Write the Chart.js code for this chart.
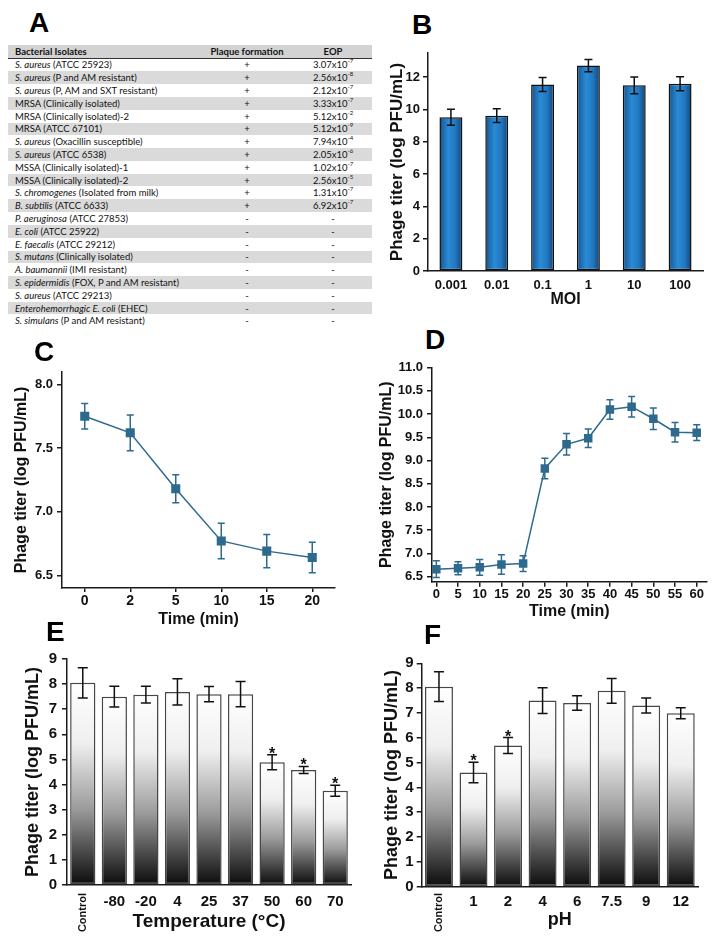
<!DOCTYPE html>
<html>
<head>
<meta charset="utf-8">
<script src="https://cdn.jsdelivr.net/npm/chart.js@4.4.0/dist/chart.umd.min.js"></script>
<style>
  body { margin: 0; background: #fff; width: 717px; height: 943px; position: relative; overflow: hidden; }
  canvas { position: absolute; }
  .lbl { position: absolute; font: bold 28px "Liberation Sans", Arial, sans-serif; line-height: 1; color: #000; z-index: 2; }
  .row { position: absolute; left: 8px; width: 364px; height: 12.8px; display: flex; align-items: center;
         font: 9.5px Lato, "Liberation Sans", sans-serif; color: #111; white-space: nowrap; }
  .head { top: 45px; height: 13.5px; background: #d3d3d3; font-weight: bold; border-bottom: 1px solid #333; box-sizing: border-box; }
  .gray { background: #dadada; }
  .c1 { width: 185px; padding-left: 7px; }
  .c2 { width: 94px; text-align: center; }
  .c3 { width: 78px; text-align: center; }
  sup { font-size: 6px; line-height: 1; vertical-align: top; position: relative; top: -1px; }
</style>
</head>
<body>
<div class="lbl" style="left:29px;top:9px">A</div>
<div class="lbl" style="left:412px;top:11px">B</div>
<div class="lbl" style="left:34px;top:338px">C</div>
<div class="lbl" style="left:425px;top:326px">D</div>
<div class="lbl" style="left:46px;top:618px">E</div>
<div class="lbl" style="left:424px;top:621px">F</div>

<div id="tbl"></div>

<canvas id="cB" width="357" height="272" style="left:360px;top:40px"></canvas>
<canvas id="cC" width="355" height="270" style="left:0px;top:360px"></canvas>
<canvas id="cD" width="357" height="270" style="left:360px;top:355px"></canvas>
<canvas id="cE" width="360" height="298" style="left:0px;top:645px"></canvas>
<canvas id="cF" width="357" height="293" style="left:360px;top:650px"></canvas>

<script>
// Panel A - host range table
const isolates = [
    ['S. aureus', ' (ATCC 25923)'],
    ['S. aureus', ' (P and AM resistant)'],
    ['S. aureus', ' (P, AM and SXT resistant)'],
    ['', 'MRSA (Clinically isolated)'],
    ['', 'MRSA (Clinically isolated)-2'],
    ['', 'MRSA (ATCC 67101)'],
    ['S. aureus', ' (Oxacillin susceptible)'],
    ['S. aureus', ' (ATCC 6538)'],
    ['', 'MSSA (Clinically isolated)-1'],
    ['', 'MSSA (Clinically isolated)-2'],
    ['S. chromogenes', ' (Isolated from milk)'],
    ['B. subtilis', ' (ATCC 6633)'],
    ['P. aeruginosa', ' (ATCC 27853)'],
    ['E. coli', ' (ATCC 25922)'],
    ['E. faecalis', ' (ATCC 29212)'],
    ['S. mutans', ' (Clinically isolated)'],
    ['A. baumannii', ' (IMI resistant)'],
    ['S. epidermidis', ' (FOX, P and AM resistant)'],
    ['S. aureus', ' (ATCC 29213)'],
    ['Enterohemorrhagic E. coli', ' (EHEC)'],
    ['S. simulans', ' (P and AM resistant)']
];
const plaque = ['+', '+', '+', '+', '+', '+', '+', '+', '+', '+', '+', '+', '-', '-', '-', '-', '-', '-', '-', '-', '-'];
const eopBase = ['3.07', '2.56', '2.12', '3.33', '5.12', '5.12', '7.94', '2.05', '1.02', '2.56', '1.31', '6.92'];
const eopExp = ['-7', '-8', '-7', '-7', '-2', '-9', '-4', '-6', '-7', '-5', '-7', '-7'];

// Panel B - MOI
const mois = ['0.001', '0.01', '0.1', '1', '10', '100'];
const moiTiter = [9.52, 9.62, 11.55, 12.72, 11.5, 11.6];
const moiErr = [0.5, 0.42, 0.44, 0.38, 0.52, 0.43];
const moiTicks = [0, 2, 4, 6, 8, 10, 12];

// Panel C - adsorption
const adsTimes = ['0', '2', '5', '10', '15', '20'];
const adsTiter = [7.75, 7.62, 7.18, 6.77, 6.69, 6.64];
const adsErr = [0.1, 0.14, 0.11, 0.14, 0.13, 0.12];
const adsTicks = [6.5, 7.0, 7.5, 8.0];

// Panel D - one-step growth
const growthTimes = [0, 5, 10, 15, 20, 25, 30, 35, 40, 45, 50, 55, 60];
const growthTiter = [6.66, 6.68, 6.7, 6.76, 6.78, 8.83, 9.35, 9.48, 10.1, 10.16, 9.9, 9.61, 9.6];
const growthErr = [0.18, 0.14, 0.17, 0.21, 0.17, 0.22, 0.23, 0.2, 0.21, 0.22, 0.23, 0.21, 0.17];
const growthTicks = [6.5, 7.0, 7.5, 8.0, 8.5, 9.0, 9.5, 10.0, 10.5, 11.0];

// Panel E - temperature stability
const temps = ['Control', '-80', '-20', '4', '25', '37', '50', '60', '70'];
const tempTiter = [8.05, 7.5, 7.58, 7.69, 7.6, 7.6, 4.89, 4.58, 3.75];
const tempErr = [0.6, 0.41, 0.33, 0.52, 0.3, 0.5, 0.3, 0.14, 0.22];
const tempStar = [0, 0, 0, 0, 0, 0, 1, 1, 1];

// Panel F - pH stability
const phs = ['Control', '1', '2', '4', '6', '7.5', '9', '12'];
const phTiter = [8.06, 4.6, 5.69, 7.5, 7.4, 7.89, 7.3, 6.99];
const phErr = [0.6, 0.41, 0.32, 0.52, 0.29, 0.5, 0.3, 0.22];
const phStar = [0, 1, 1, 0, 0, 0, 0, 0];

const barTicks = [0, 1, 2, 3, 4, 5, 6, 7, 8, 9];

// build the table
let html = '<div class="row head"><div class="c1">Bacterial Isolates</div><div class="c2">Plaque formation</div><div class="c3">EOP</div></div>';
isolates.forEach((n, i) => {
    const name = (n[0] ? '<i>' + n[0] + '</i>' : '') + n[1];
    const eop = i < eopBase.length ? eopBase[i] + 'x10<sup>' + eopExp[i] + '</sup>' : '-';
    html += '<div class="row' + (i % 2 ? ' gray' : '') + '" style="top:' + (58.5 + i * 12.8) + 'px">' +
        '<div class="c1">' + name + '</div><div class="c2">' + plaque[i] + '</div><div class="c3">' + eop + '</div></div>';
});
document.getElementById('tbl').innerHTML = html;

const FONT = '"Liberation Sans", Arial, sans-serif';
const AX = '#1a1a1a';
const LINE = '#2d6a8e';
Chart.defaults.font.family = FONT;
Chart.defaults.color = '#111';
Chart.defaults.animation = false;

// error bars (and significance stars) drawn from the y scale
function drawErr(chart, o) {
    const ctx = chart.ctx, y = chart.scales.y;
    const vals = chart.data.datasets[0].data;
    ctx.save();
    ctx.strokeStyle = o.color;
    ctx.lineWidth = o.width || 1.5;
    chart.getDatasetMeta(0).data.forEach((el, i) => {
        const v = typeof vals[i] === 'object' ? vals[i].y : vals[i];
        const top = y.getPixelForValue(v + o.err[i]);
        const bot = y.getPixelForValue(v - o.err[i]);
        ctx.beginPath();
        ctx.moveTo(el.x, top); ctx.lineTo(el.x, bot);
        ctx.moveTo(el.x - o.cap, top); ctx.lineTo(el.x + o.cap, top);
        ctx.moveTo(el.x - o.cap, bot); ctx.lineTo(el.x + o.cap, bot);
        ctx.stroke();
        if (o.stars && o.stars[i]) {
            ctx.fillStyle = '#111';
            ctx.font = 'bold 16px ' + FONT;
            ctx.textAlign = 'center';
            ctx.fillText('*', el.x, top + 4);
        }
    });
    ctx.restore();
}
const errPlugin = {
    id: 'errbars',
    beforeDatasetsDraw(chart, args, o) { if (o.err && o.behind) drawErr(chart, o); },
    afterDatasetsDraw(chart, args, o) { if (o.err && !o.behind) drawErr(chart, o); }
};

// "Control" label is written vertically, the others are not
const controlLabel = {
    id: 'controlLabel',
    afterDraw(chart, args, o) {
        if (!o.top) return;
        const ctx = chart.ctx;
        ctx.save();
        ctx.translate(chart.scales.x.getPixelForValue(0), o.top);
        ctx.rotate(-Math.PI / 2);
        ctx.font = 'bold 11px ' + FONT;
        ctx.fillStyle = '#111';
        ctx.textAlign = 'right';
        ctx.textBaseline = 'middle';
        ctx.fillText('Control', 0, 0);
        ctx.restore();
    }
};

// bar fills
function blueFill(c) {
    const chart = c.chart, x = chart.scales.x;
    if (c.dataIndex === undefined || !x) return '#2277bf';
    const cx = x.getPixelForValue(c.dataIndex);
    const w = x.width / mois.length * 0.5;
    if (!isFinite(cx) || !isFinite(w) || w <= 0) return '#2277bf';
    const g = chart.ctx.createLinearGradient(cx - w / 2, 0, cx + w / 2, 0);
    g.addColorStop(0, '#0f3a60');
    g.addColorStop(0.12, '#1b65a6');
    g.addColorStop(0.4, '#2a8bd6');
    g.addColorStop(0.7, '#2277c0');
    g.addColorStop(0.9, '#16558e');
    g.addColorStop(1, '#0f3a60');
    return g;
}
function greyFill(c) {
    const chart = c.chart, y = chart.scales.y;
    if (c.dataIndex === undefined || !y) return '#999';
    const top = y.getPixelForValue(c.raw), bot = y.getPixelForValue(0);
    if (!isFinite(top) || !isFinite(bot) || bot - top < 1) return '#999';
    const g = chart.ctx.createLinearGradient(0, top, 0, bot);
    g.addColorStop(0, '#ffffff');
    g.addColorStop(0.3, '#efefef');
    g.addColorStop(0.62, '#9c9c9c');
    g.addColorStop(1, '#0b0b0b');
    return g;
}

function yScale(o) {
    return {
        min: o.min, max: o.max,
        afterBuildTicks: s => { s.ticks = o.ticks.map(v => ({ value: v })); },
        afterFit: s => { s.width = o.width; },
        grid: { drawOnChartArea: false, drawTicks: true, tickLength: 5, color: AX, lineWidth: 1.5 },
        border: { color: AX, width: 1.5 },
        ticks: { font: { size: o.tick, weight: 'bold' }, padding: o.pad, color: '#111', callback: o.fmt || (v => v) },
        title: { display: true, text: 'Phage titer (log PFU/mL)', color: '#111',
                 font: { size: o.title, weight: 'bold', lineHeight: 1.2 }, padding: { top: o.titlePad, bottom: 0 } }
    };
}
function xTitle(text, size, pad) {
    return { display: true, text: text, color: '#111', font: { size: size, weight: 'bold', lineHeight: 1.2 }, padding: { top: 0, bottom: pad } };
}
function base(pad, plugins) {
    return {
        responsive: false, animation: false, devicePixelRatio: 1,
        layout: { padding: pad },
        plugins: Object.assign({ legend: { display: false }, tooltip: { enabled: false } }, plugins)
    };
}

// B
new Chart(document.getElementById('cB'), {
    type: 'bar',
    data: { labels: mois, datasets: [{ data: moiTiter, backgroundColor: blueFill, borderColor: '#111', borderWidth: 1.5,
        borderSkipped: false, barPercentage: 0.5, categoryPercentage: 1 }] },
    options: Object.assign(base({ top: 13, right: 14, left: 0, bottom: 0 }, { errbars: { err: moiErr, color: '#111', cap: 4 } }), {
        scales: {
            x: {
                afterFit: s => { s.height = 41; },
                grid: { drawOnChartArea: false, drawTicks: false },
                border: { color: AX, width: 1.5 },
                ticks: { font: { size: 13, weight: 'bold' }, padding: 7, color: '#111' },
                title: xTitle('MOI', 16, 3)
            },
            y: yScale({ min: 0, max: 13.5, ticks: moiTicks, width: 68, tick: 13, pad: 3, title: 17, titlePad: 26.8 })
        }
    }),
    plugins: [errPlugin]
});

// C
new Chart(document.getElementById('cC'), {
    type: 'line',
    data: { labels: adsTimes, datasets: [{ data: adsTiter, borderColor: LINE, backgroundColor: LINE, borderWidth: 1.5,
        pointStyle: 'rect', pointRadius: 6.4, pointBorderWidth: 0, pointBackgroundColor: LINE, tension: 0 }] },
    options: Object.assign(base({ top: 8, right: 20, left: 0, bottom: 0 }, { errbars: { err: adsErr, color: LINE, cap: 3.5, behind: true } }), {
        scales: {
            x: {
                offset: true,
                afterFit: s => { s.height = 42; },
                grid: { offset: false, drawOnChartArea: false, drawTicks: true, tickLength: 4, color: AX, lineWidth: 1.5 },
                border: { color: AX, width: 1.5 },
                ticks: { font: { size: 14, weight: 'bold' }, padding: 1, color: '#111' },
                title: xTitle('Time (min)', 16, 0.4)
            },
            y: yScale({ min: 6.4, max: 8.1, ticks: adsTicks, width: 62, tick: 13, pad: 4, title: 16, titlePad: 12.4, fmt: v => v.toFixed(1) })
        }
    }),
    plugins: [errPlugin]
});

// D
new Chart(document.getElementById('cD'), {
    type: 'line',
    data: { datasets: [{ data: growthTimes.map((t, i) => ({ x: t, y: growthTiter[i] })), borderColor: LINE, backgroundColor: LINE,
        borderWidth: 1.5, pointStyle: 'rect', pointRadius: 6, pointBorderWidth: 0, pointBackgroundColor: LINE, tension: 0 }] },
    options: Object.assign(base({ top: 12.7, right: 10.3, left: 0, bottom: 0 }, { errbars: { err: growthErr, color: LINE, cap: 3.5, behind: true } }), {
        scales: {
            x: {
                type: 'linear', min: -1, max: 62.3,
                afterBuildTicks: s => { s.ticks = growthTimes.map(v => ({ value: v })); },
                afterFit: s => { s.height = 43.3; },
                grid: { drawOnChartArea: false, drawTicks: true, tickLength: 5, color: AX, lineWidth: 1.5 },
                border: { color: AX, width: 1.5 },
                ticks: { font: { size: 13, weight: 'bold' }, padding: 0, color: '#111' },
                title: xTitle('Time (min)', 16, 3.7)
            },
            y: yScale({ min: 6.39, max: 11.0, ticks: growthTicks, width: 72, tick: 13, pad: 4, title: 16, titlePad: 17.4, fmt: v => v.toFixed(1) })
        }
    }),
    plugins: [errPlugin]
});

// E
new Chart(document.getElementById('cE'), {
    type: 'bar',
    data: { labels: temps, datasets: [{ data: tempTiter, backgroundColor: greyFill, borderColor: '#474747', borderWidth: 1.5,
        borderSkipped: false, barPercentage: 0.8, categoryPercentage: 1 }] },
    options: Object.assign(base({ top: 11.7, right: 9, left: 0, bottom: 0 }, {
        errbars: { err: tempErr, color: '#111', cap: 5, stars: tempStar }, controlLabel: { top: 248 } }), {
        scales: {
            x: {
                afterFit: s => { s.height = 58; },
                grid: { drawOnChartArea: false, drawTicks: false },
                border: { color: AX, width: 1.5 },
                ticks: { font: { size: 15, weight: 'bold' }, padding: 8, color: '#111', callback: (v, i) => i === 0 ? '' : temps[i] },
                title: xTitle('Temperature (\u00b0C)', 19, 9.9)
            },
            y: yScale({ min: 0, max: 9, ticks: barTicks, width: 67, tick: 15, pad: 5, title: 18, titlePad: 22.2 })
        }
    }),
    plugins: [errPlugin, controlLabel]
});

// F
new Chart(document.getElementById('cF'), {
    type: 'bar',
    data: { labels: phs, datasets: [{ data: phTiter, backgroundColor: greyFill, borderColor: '#474747', borderWidth: 1.5,
        borderSkipped: false, barPercentage: 0.81, categoryPercentage: 1 }] },
    options: Object.assign(base({ top: 13.3, right: 19, left: 0, bottom: 0 }, {
        errbars: { err: phErr, color: '#111', cap: 5, stars: phStar }, controlLabel: { top: 243 } }), {
        scales: {
            x: {
                afterFit: s => { s.height = 56.3; },
                grid: { drawOnChartArea: false, drawTicks: false },
                border: { color: AX, width: 1.5 },
                ticks: { font: { size: 15, weight: 'bold' }, padding: 6, color: '#111', callback: (v, i) => i === 0 ? '' : phs[i] },
                title: xTitle('pH', 18, 12.2)
            },
            y: yScale({ min: 0, max: 9, ticks: barTicks, width: 61.7, tick: 15, pad: 3, title: 18, titlePad: 20.9 })
        }
    }),
    plugins: [errPlugin, controlLabel]
});
</script>
</body>
</html>
